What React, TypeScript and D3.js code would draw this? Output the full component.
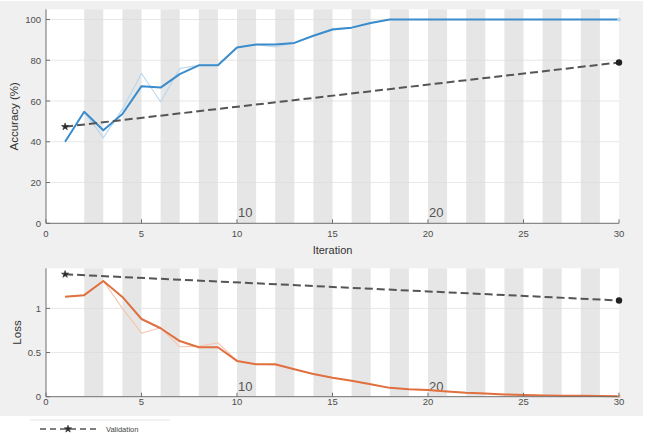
import React from "react";
import * as d3 from "d3";

const iterations = [1,2,3,4,5,6,7,8,9,10,11,12,13,14,15,16,17,18,19,20,21,22,23,24,25,26,27,28,29,30];
const accSmooth = [40,54.7,45.7,53.6,67.3,66.6,73.2,77.5,77.5,86.3,87.7,87.7,88.5,92,95.1,96,98.3,100,100,100,100,100,100,100,100,100,100,100,100,100];
const accRaw = [40,54.7,42,56,73.5,59.6,76,77.5,77.5,86.3,87.7,86.5,88.5,92,95.5,96,98.5,100,100,100,100,100,100,100,100,100,100,100,100,100];
const lossSmooth = [1.133,1.15,1.31,1.13,0.88,0.775,0.63,0.56,0.56,0.405,0.367,0.367,0.31,0.257,0.215,0.18,0.14,0.1,0.085,0.075,0.06,0.045,0.035,0.025,0.02,0.015,0.012,0.01,0.008,0.006];
const lossRaw = [1.133,1.15,1.31,1.0,0.72,0.78,0.565,0.57,0.61,0.405,0.367,0.36,0.31,0.257,0.215,0.18,0.14,0.1,0.085,0.075,0.06,0.045,0.035,0.025,0.02,0.015,0.012,0.01,0.008,0.006];
const valIter = [1, 30];
const valAcc = [47.4, 78.9];
const valLoss = [1.386, 1.09];
const bandStarts = [2,4,6,8,10,12,14,16,18,20,22,24,26,28];
const xTicks = [0,5,10,15,20,25,30];
const accTicks = [0,20,40,60,80,100];
const lossTicks = [0,0.5,1];
const epochIters = [10, 20];
const epochLabels = ["10", "20"];

const W = 647, H = 435;
const FONT = "'Liberation Sans', Arial, Helvetica, sans-serif";
const TICK_COLOR = "#4d4d4d";
const AXIS_COLOR = "#6e6e6e";

const x = d3.scaleLinear().domain([0, 30]).range([46, 619]);
const yAcc = d3.scaleLinear().domain([0, 105]).range([223.3, 9.3]);
const yLoss = d3.scaleLinear().domain([0, 1.454]).range([396.7, 268.3]);

type Scale = d3.ScaleLinear<number, number>;

function Panel({ y, yTicks, fmt, title, titleY, tickLabelY, showXLabel, smooth, raw, val, color, lightColor }: {
  y: Scale; yTicks: number[]; fmt: (v: number) => string; title: string; titleY: number; tickLabelY: number;
  showXLabel: boolean; smooth: number[]; raw: number[]; val: number[]; color: string; lightColor: string;
}) {
  const [y0, y1] = y.range();
  const line = d3.line<number>().x((_, i) => x(iterations[i])).y((d) => y(d));
  const vline = d3.line<number>().x((_, i) => x(valIter[i])).y((d) => y(d));
  const star = d3.symbol().type(d3.symbolStar).size(16)();
  return (
    <g>
      <rect x={x(0)} y={y1} width={x(30) - x(0)} height={y0 - y1} fill="#ffffff" />
      {bandStarts.map((b) => (
        <rect key={b} x={x(b)} y={y1} width={x(b + 1) - x(b)} height={y0 - y1} fill="#e6e6e6" />
      ))}
      {yTicks.filter((t) => t > 0).map((t) => (
        <line key={t} x1={x(0)} x2={x(30)} y1={y(t)} y2={y(t)} stroke="#dcdcdc" strokeWidth={0.8} opacity={0.8} />
      ))}
      {epochIters.map((e, i) => (
        <text key={e} x={x(e) + 1} y={y0 - 6} fontSize={13} fill="#555" fontFamily={FONT}>{epochLabels[i]}</text>
      ))}
      <path d={line(raw) || ""} fill="none" stroke={lightColor} strokeWidth={1.1} />
      <path d={line(smooth) || ""} fill="none" stroke={color} strokeWidth={2} strokeLinejoin="round" />
      <circle cx={x(30)} cy={y(raw[29])} r={2} fill={lightColor} />
      <path d={vline(val) || ""} fill="none" stroke="#555" strokeWidth={2} strokeDasharray="8,4" />
      <path d={star} transform={`translate(${x(valIter[0])},${y(val[0])})`} fill="#2a2a2a" stroke="#2a2a2a" strokeWidth={0.6} />
      <circle cx={x(valIter[1])} cy={y(val[1])} r={3.2} fill="#222" />
      <line x1={x(0)} x2={x(30)} y1={y0} y2={y0} stroke={AXIS_COLOR} strokeWidth={1} />
      <line x1={x(0)} x2={x(0)} y1={y0} y2={y1} stroke={AXIS_COLOR} strokeWidth={1} />
      {xTicks.map((t) => (
        <g key={t}>
          <line x1={x(t)} x2={x(t)} y1={y0} y2={y0 - 4} stroke={AXIS_COLOR} strokeWidth={1} />
          <text x={x(t)} y={tickLabelY} textAnchor="middle" dominantBaseline="central" fontSize={9.5} fill={TICK_COLOR} fontFamily={FONT}>{t}</text>
        </g>
      ))}
      {yTicks.map((t) => (
        <g key={t}>
          <line x1={x(0)} x2={x(0) + 4} y1={y(t)} y2={y(t)} stroke={AXIS_COLOR} strokeWidth={1} />
          <text x={41} y={y(t)} textAnchor="end" dominantBaseline="central" fontSize={9.5} fill={TICK_COLOR} fontFamily={FONT}>{fmt(t)}</text>
        </g>
      ))}
      <text transform={`translate(${titleY},${(y0 + y1) / 2}) rotate(-90)`} textAnchor="middle" dominantBaseline="central" fontSize={11.5} fill="#333" fontFamily={FONT}>{title}</text>
      {showXLabel && (
        <text x={(x(0) + x(30)) / 2} y={250} textAnchor="middle" dominantBaseline="central" fontSize={11} fill="#333" fontFamily={FONT}>Iteration</text>
      )}
    </g>
  );
}

export default function App() {
  const star = d3.symbol().type(d3.symbolStar).size(16)();
  return (
    <div style={{ position: "absolute", left: 0, top: 0 }}>
      <svg width={W} height={H} style={{ display: "block" }}>
        <rect x={0} y={0} width={W} height={H} fill="#ffffff" />
        <rect x={0} y={1} width={643} height={415} fill="#f0f0f0" />
        <Panel y={yAcc} yTicks={accTicks} fmt={(v) => String(v)} title="Accuracy (%)" titleY={14} tickLabelY={233.5}
          showXLabel={true} smooth={accSmooth} raw={accRaw} val={valAcc} color="#3a8ccc" lightColor="#b9d6ec" />
        <Panel y={yLoss} yTicks={lossTicks} fmt={(v) => String(v)} title="Loss" titleY={16.5} tickLabelY={401}
          showXLabel={false} smooth={lossSmooth} raw={lossRaw} val={valLoss} color="#e0703f" lightColor="#f4c6ae" />
        <line x1={30} x2={170} y1={420} y2={420} stroke="#e4e4e4" strokeWidth={1} />
        <line x1={40} x2={98} y1={429} y2={429} stroke="#555" strokeWidth={1.6} strokeDasharray="6,4" />
        <path d={star} transform="translate(68,429)" fill="#2a2a2a" stroke="#2a2a2a" strokeWidth={0.6} />
        <text x={106} y={429} dominantBaseline="central" fontSize={7.5} fill="#444" fontFamily={FONT}>Validation</text>
      </svg>
    </div>
  );
}
